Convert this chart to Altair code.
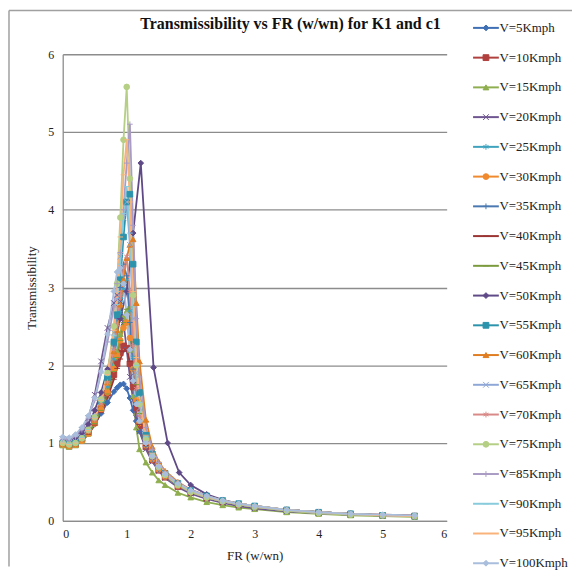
import altair as alt
import pandas as pd

FONT = "Liberation Serif"

series_names = ["V=5Kmph", "V=10Kmph", "V=15Kmph", "V=20Kmph", "V=25Kmph", "V=30Kmph",
                "V=35Kmph", "V=40Kmph", "V=45Kmph", "V=50Kmph", "V=55Kmph", "V=60Kmph",
                "V=65Kmph", "V=70Kmph", "V=75Kmph", "V=85Kmph", "V=90Kmph", "V=95Kmph",
                "V=100Kmph"]

colors = ["#3F6FB5", "#B0403D", "#8FAE4F", "#6F5690", "#3FA3BE", "#F08A2E",
          "#4A78B0", "#9B3533", "#7A9A3D", "#5F4A87", "#2C93AC", "#E07D22",
          "#8FA7D6", "#D98A88", "#B5CF85", "#A99BC4", "#88CBDC", "#F9B37A",
          "#A9BEDC"]

X_PATH = "M-1,-1L1,1M-1,1L1,-1"
STAR_PATH = "M0,-1L0,1M-0.87,-0.5L0.87,0.5M-0.87,0.5L0.87,-0.5"
PLUS_PATH = "M-1,0L1,0M0,-1L0,1"
DASH_PATH = "M-1,0L1,0"
shapes = ["diamond", "square", "triangle-up", X_PATH, STAR_PATH, "circle",
          PLUS_PATH, DASH_PATH, DASH_PATH, "diamond", "square", "triangle-up",
          X_PATH, STAR_PATH, "circle", PLUS_PATH, DASH_PATH, DASH_PATH, "diamond"]

# common frequency-ratio grid (w/wn)
fr = [0.0, 0.1, 0.2, 0.3, 0.4, 0.5, 0.6, 0.7, 0.8, 0.85, 0.9, 0.95, 1.0, 1.05, 1.1, 1.15,
      1.2, 1.3, 1.4, 1.5, 1.6, 1.8, 2.0, 2.25, 2.5, 2.75, 3.0, 3.5, 4.0, 4.5, 5.0, 5.5]

t_v5 = [1.00, 0.97, 0.98, 1.03, 1.12, 1.24, 1.38, 1.52, 1.66, 1.71, 1.75, 1.76, 1.70, 1.58, 1.42, 1.28,
        1.15, 0.95, 0.80, 0.68, 0.58, 0.46, 0.38, 0.31, 0.26, 0.22, 0.18, 0.14, 0.11, 0.09, 0.07, 0.06]
t_v10 = [0.98, 0.96, 0.98, 1.04, 1.13, 1.27, 1.44, 1.64, 1.88, 2.02, 2.16, 2.25, 2.22, 2.02, 1.72, 1.45,
         1.22, 0.95, 0.78, 0.65, 0.56, 0.44, 0.36, 0.29, 0.24, 0.20, 0.17, 0.13, 0.10, 0.08, 0.07, 0.06]
t_v15 = [0.97, 0.95, 0.97, 1.03, 1.12, 1.26, 1.45, 1.68, 1.98, 2.18, 2.40, 2.62, 2.70, 2.20, 1.60, 1.20,
         0.92, 0.75, 0.62, 0.52, 0.46, 0.36, 0.30, 0.24, 0.20, 0.17, 0.15, 0.11, 0.09, 0.07, 0.06, 0.05]
t_v20 = [1.05, 1.03, 1.08, 1.17, 1.32, 1.62, 2.05, 2.48, 2.80, 2.90, 2.82, 2.55, 2.20, 1.85, 1.55, 1.32,
         1.15, 0.92, 0.76, 0.64, 0.55, 0.43, 0.35, 0.28, 0.23, 0.19, 0.16, 0.12, 0.10, 0.08, 0.07, 0.06]
t_v25 = [0.99, 0.97, 0.99, 1.04, 1.14, 1.28, 1.47, 1.72, 2.08, 2.35, 2.68, 2.98, 3.10, 2.70, 2.10, 1.60,
         1.28, 0.98, 0.80, 0.67, 0.57, 0.45, 0.37, 0.30, 0.25, 0.21, 0.18, 0.13, 0.10, 0.08, 0.07, 0.06]
t_v30 = [0.98, 0.96, 0.98, 1.03, 1.12, 1.25, 1.43, 1.65, 1.95, 2.12, 2.32, 2.48, 2.55, 2.35, 1.95, 1.55,
         1.26, 0.97, 0.79, 0.66, 0.57, 0.45, 0.37, 0.30, 0.25, 0.21, 0.18, 0.14, 0.11, 0.09, 0.07, 0.06]
t_v35 = [1.00, 0.98, 1.00, 1.06, 1.16, 1.31, 1.52, 1.80, 2.25, 2.60, 3.00, 3.30, 3.15, 2.55, 1.95, 1.52,
         1.24, 0.96, 0.79, 0.66, 0.57, 0.45, 0.37, 0.30, 0.25, 0.21, 0.18, 0.14, 0.11, 0.09, 0.07, 0.06]
t_v40 = [0.98, 0.96, 0.98, 1.03, 1.11, 1.23, 1.39, 1.58, 1.82, 1.96, 2.08, 2.18, 2.20, 2.05, 1.78, 1.48,
         1.24, 0.97, 0.80, 0.67, 0.58, 0.46, 0.38, 0.31, 0.26, 0.22, 0.19, 0.14, 0.11, 0.09, 0.08, 0.07]
t_v45 = [0.98, 0.96, 0.98, 1.03, 1.12, 1.25, 1.42, 1.63, 1.92, 2.10, 2.32, 2.55, 2.72, 2.75, 2.30, 1.75,
         1.38, 1.02, 0.82, 0.68, 0.58, 0.46, 0.38, 0.31, 0.25, 0.21, 0.18, 0.14, 0.11, 0.09, 0.07, 0.06]
fr_v50 = [0.0, 0.1, 0.2, 0.3, 0.4, 0.5, 0.6, 0.7, 0.8, 0.9, 1.0, 1.1, 1.22, 1.42, 1.64, 1.82,
          2.0, 2.25, 2.5, 2.75, 3.0, 3.5, 4.0, 4.5, 5.0]
t_v50 = [1.02, 1.00, 1.04, 1.12, 1.24, 1.42, 1.65, 1.95, 2.30, 2.60, 2.95, 3.70, 4.60, 1.97, 1.00, 0.62,
         0.46, 0.34, 0.27, 0.22, 0.18, 0.14, 0.11, 0.09, 0.07]
t_v55 = [1.00, 0.98, 1.00, 1.06, 1.16, 1.32, 1.54, 1.84, 2.30, 2.65, 3.10, 3.65, 4.10, 4.20, 3.30, 2.30,
         1.65, 1.10, 0.86, 0.71, 0.61, 0.48, 0.39, 0.32, 0.26, 0.22, 0.19, 0.14, 0.11, 0.09, 0.07, 0.06]
t_v60 = [0.99, 0.97, 0.99, 1.05, 1.15, 1.30, 1.50, 1.78, 2.18, 2.45, 2.78, 3.10, 3.38, 3.55, 3.62, 2.80,
         2.05, 1.30, 0.95, 0.76, 0.64, 0.50, 0.40, 0.32, 0.26, 0.22, 0.19, 0.14, 0.11, 0.09, 0.07, 0.06]
t_v65 = [1.02, 1.00, 1.02, 1.08, 1.18, 1.34, 1.57, 1.90, 2.42, 2.85, 3.40, 3.90, 4.10, 3.55, 2.60, 1.90,
         1.45, 1.05, 0.84, 0.70, 0.60, 0.47, 0.38, 0.31, 0.25, 0.21, 0.18, 0.14, 0.11, 0.09, 0.07, 0.06]
t_v70 = [1.00, 0.98, 1.00, 1.05, 1.15, 1.30, 1.50, 1.78, 2.20, 2.52, 2.90, 3.25, 3.40, 2.95, 2.25, 1.70,
         1.35, 1.00, 0.81, 0.68, 0.58, 0.46, 0.37, 0.30, 0.25, 0.21, 0.18, 0.13, 0.10, 0.08, 0.07, 0.06]
t_v75 = [1.00, 0.98, 1.00, 1.06, 1.17, 1.33, 1.56, 1.90, 2.50, 3.05, 3.90, 4.90, 5.58, 4.40, 2.90, 2.00,
         1.50, 1.05, 0.83, 0.69, 0.59, 0.46, 0.37, 0.30, 0.25, 0.21, 0.18, 0.13, 0.10, 0.08, 0.07, 0.06]
t_v85 = [1.05, 1.04, 1.08, 1.17, 1.32, 1.55, 1.90, 2.30, 2.75, 3.05, 3.45, 4.00, 4.60, 5.10, 3.80, 2.60,
         1.85, 1.20, 0.92, 0.75, 0.63, 0.49, 0.40, 0.32, 0.26, 0.22, 0.19, 0.14, 0.11, 0.09, 0.07, 0.06]
t_v90 = [1.01, 0.99, 1.01, 1.07, 1.17, 1.33, 1.56, 1.88, 2.38, 2.78, 3.30, 3.95, 4.30, 3.70, 2.75, 2.00,
         1.52, 1.08, 0.86, 0.71, 0.61, 0.48, 0.39, 0.31, 0.26, 0.22, 0.19, 0.14, 0.11, 0.09, 0.07, 0.06]
t_v95 = [1.00, 0.98, 1.00, 1.06, 1.16, 1.32, 1.55, 1.88, 2.45, 2.95, 3.65, 4.45, 4.90, 4.10, 2.95, 2.10,
         1.58, 1.10, 0.87, 0.72, 0.61, 0.48, 0.39, 0.31, 0.26, 0.22, 0.19, 0.14, 0.11, 0.09, 0.07, 0.06]
t_v100 = [1.08, 1.07, 1.11, 1.20, 1.35, 1.58, 1.92, 2.40, 2.95, 3.20, 3.25, 3.05, 2.65, 2.20, 1.80, 1.50,
          1.28, 1.00, 0.83, 0.70, 0.60, 0.48, 0.39, 0.32, 0.26, 0.22, 0.19, 0.14, 0.11, 0.09, 0.08, 0.07]

series_data = [
    (fr, t_v5), (fr, t_v10), (fr, t_v15), (fr, t_v20), (fr, t_v25), (fr, t_v30),
    (fr, t_v35), (fr, t_v40), (fr, t_v45), (fr_v50, t_v50), (fr, t_v55), (fr, t_v60),
    (fr, t_v65), (fr, t_v70), (fr, t_v75), (fr, t_v85), (fr, t_v90), (fr, t_v95),
    (fr, t_v100),
]

# marker keys carry a trailing space so the marker legend stays separate from the line legend
marker_names = [n + " " for n in series_names]

rows = []
for name, mname, (xs, ys) in zip(series_names, marker_names, series_data):
    assert len(xs) == len(ys), name
    for xv, yv in zip(xs, ys):
        rows.append({"series": name, "marker": mname, "FR": xv, "T": yv})
df = pd.DataFrame(rows)

W, H = 386, 469
ticks = [0, 1, 2, 3, 4, 5, 6]
GREY = "#8c8c8c"

x_enc = alt.X("FR:Q", scale=alt.Scale(domain=[0, 6], nice=False),
              axis=alt.Axis(values=ticks, format="d", title="FR (w/wn)", grid=False,
                            ticks=False, labelPadding=8, titlePadding=10))
y_enc = alt.Y("T:Q", scale=alt.Scale(domain=[0, 6], nice=False),
              axis=alt.Axis(values=ticks, format="d", title="Transmissibility", grid=True,
                            ticks=False, labelPadding=9, titlePadding=9))

ROWPAD = 15.9
LEGX, LEGY = 419, -33

line_legend = alt.Legend(orient="none", legendX=LEGX, legendY=LEGY, title=None,
                         symbolType="M-4,0L4,0", symbolSize=42, symbolStrokeWidth=2,
                         labelFont=FONT, labelFontSize=13, labelColor="#222",
                         labelOffset=7, rowPadding=ROWPAD, padding=0)
point_legend = alt.Legend(orient="none", legendX=LEGX, legendY=LEGY, title=None,
                          symbolSize=34, symbolStrokeWidth=1,
                          labelFont=FONT, labelFontSize=13, labelOpacity=0,
                          labelOffset=7, rowPadding=ROWPAD, padding=0)

lines = alt.Chart(df).mark_line(strokeWidth=1.8).encode(
    x=x_enc, y=y_enc,
    color=alt.Color("series:N", scale=alt.Scale(domain=series_names, range=colors),
                    legend=line_legend),
)

points = alt.Chart(df).mark_point(filled=True, size=32, strokeWidth=1, opacity=1).encode(
    x=x_enc, y=y_enc,
    fill=alt.Fill("marker:N", scale=alt.Scale(domain=marker_names, range=colors),
                  legend=point_legend),
    stroke=alt.Stroke("marker:N", scale=alt.Scale(domain=marker_names, range=colors),
                      legend=point_legend),
    shape=alt.Shape("marker:N", scale=alt.Scale(domain=marker_names, range=shapes),
                    legend=point_legend),
)

frame_df = pd.DataFrame({"k": [0]})
left_border = alt.Chart(frame_df).mark_rule(color="#a0a0a0", strokeWidth=1.5).encode(
    x=alt.value(-54), y=alt.value(-44), y2=alt.value(515))
top_border = alt.Chart(frame_df).mark_rule(color="#a0a0a0", strokeWidth=1.5).encode(
    x=alt.value(-54), x2=alt.value(512), y=alt.value(-44))

chart = alt.layer(left_border, top_border, lines, points).properties(
    width=W, height=H,
    padding={"left": 0, "top": 0, "right": 0, "bottom": 0},
    title=alt.TitleParams("Transmissibility vs FR (w/wn) for K1 and c1", font=FONT,
                          fontSize=16, fontWeight="bold", color="#111",
                          anchor="middle", frame="group", dx=36, dy=36, offset=14),
).configure_view(strokeWidth=0).configure_axis(
    labelFont=FONT, labelFontSize=12, labelColor="#222",
    titleFont=FONT, titleFontSize=13, titleFontWeight="normal", titleColor="#222",
    domainColor=GREY, domainWidth=1.3, gridColor=GREY, gridWidth=1.3,
)

chart.save("out.html", embed_options={"renderer": "svg", "actions": False})
